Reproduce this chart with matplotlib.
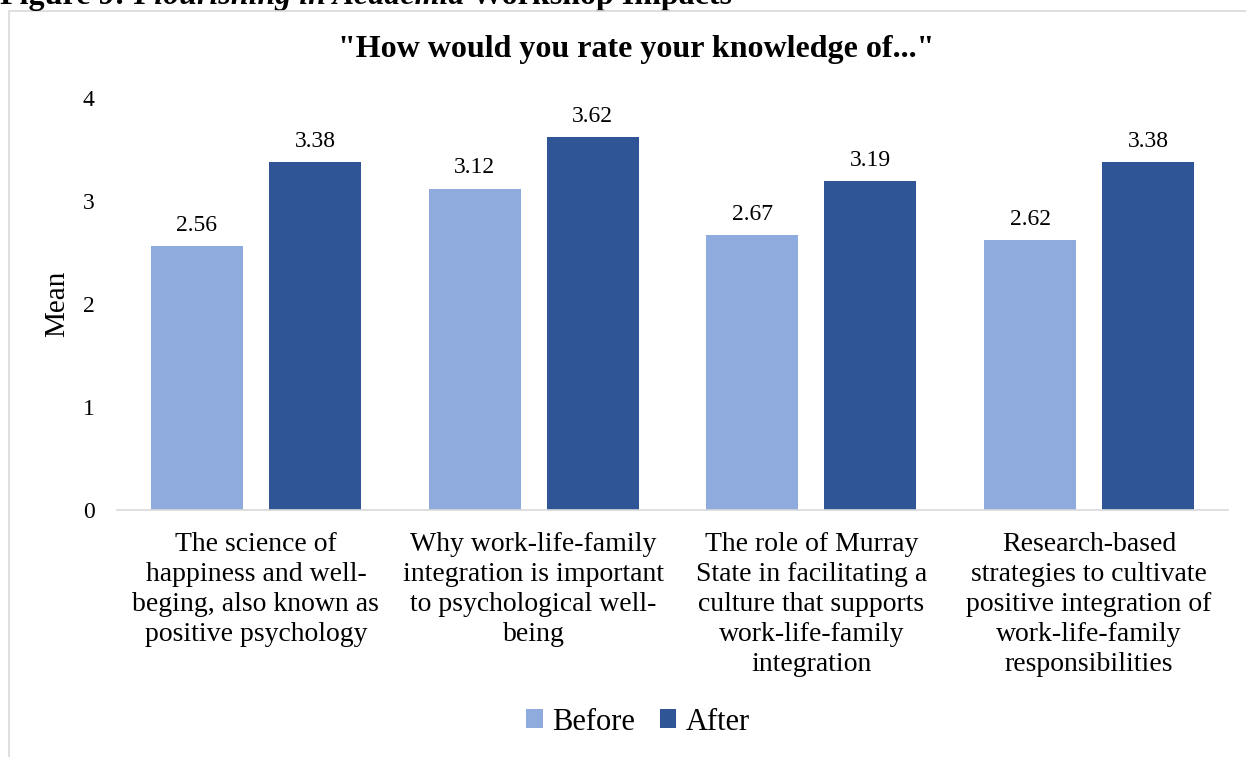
import numpy as np
import matplotlib.pyplot as plt
from matplotlib.patches import Rectangle

plt.rcParams['font.family'] = ['Liberation Serif', 'DejaVu Serif']

categories = [
    "The science of\nhappiness and well-\nbeging, also known as\npositive psychology",
    "Why work-life-family\nintegration is important\nto psychological well-\nbeing",
    "The role of Murray\nState in facilitating a\nculture that supports\nwork-life-family\nintegration",
    "Research-based\nstrategies to cultivate\npositive integration of\nwork-life-family\nresponsibilities",
]
before = [2.56, 3.12, 2.67, 2.62]
after = [3.38, 3.62, 3.19, 3.38]

c_before = '#8faadc'
c_after = '#2f5597'

fig = plt.figure(figsize=(12.46, 7.57), dpi=100)

# outer chart frame
fig.patches.append(Rectangle((9 / 1246, -0.01), 1.0, 1 - 11 / 757 + 0.01,
                             transform=fig.transFigure, fill=False,
                             edgecolor='#d9d9d9', linewidth=1.2))

ax = fig.add_axes([117 / 1246, 1 - 510 / 757, (1228 - 117) / 1246, (510 - 98) / 757])

# caption above the frame (runs off the top edge)
cap1 = fig.text(0.0, 1 - 4 / 757, "Figure 9: ", fontsize=23,
                fontweight='bold', ha='left', va='baseline')
cap2 = ax.annotate("Flourishing in Academia", xy=(1, 0), xycoords=cap1,
                   fontsize=23, fontweight='bold', style='italic',
                   ha='left', va='bottom', annotation_clip=False)
cap3 = ax.annotate(" Workshop Impacts", xy=(1, 0), xycoords=cap2,
                   fontsize=23, fontweight='bold', ha='left', va='bottom',
                   annotation_clip=False)

x = np.arange(len(categories))
w = 0.331
off = 0.2125
b1 = ax.bar(x - off, before, w, color=c_before, label='Before')
b2 = ax.bar(x + off, after, w, color=c_after, label='After')

for bars, vals in ((b1, before), (b2, after)):
    for r, v in zip(bars, vals):
        ax.text(r.get_x() + r.get_width() / 2, v + 0.1, f"{v:.2f}",
                ha='center', va='bottom', fontsize=17)

ax.set_xlim(-0.5, 3.5)
ax.set_ylim(0, 4)
ax.set_yticks([0, 1, 2, 3, 4])
ax.set_xticks(x)
ax.set_xticklabels(categories, fontsize=20, linespacing=1.26)
ax.tick_params(axis='y', length=0, labelsize=17, pad=16)
ax.tick_params(axis='x', length=0, pad=16)
ax.set_ylabel('Mean', fontsize=21, labelpad=9)

for s in ['top', 'right', 'left']:
    ax.spines[s].set_visible(False)
ax.spines['bottom'].set_color('#d9d9d9')
ax.spines['bottom'].set_linewidth(1.2)

fig.text(636 / 1246, 1 - 50 / 757, '"How would you rate your knowledge of..."',
         fontsize=23, fontweight='bold', ha='center', va='center')

fig.legend(handles=[b1, b2], loc='center', bbox_to_anchor=(638 / 1246, 1 - 722 / 757),
           ncol=2, frameon=False, fontsize=22, handlelength=0.55, handleheight=0.55,
           handletextpad=0.3, columnspacing=0.8)

fig.savefig('out.png', dpi=100)
